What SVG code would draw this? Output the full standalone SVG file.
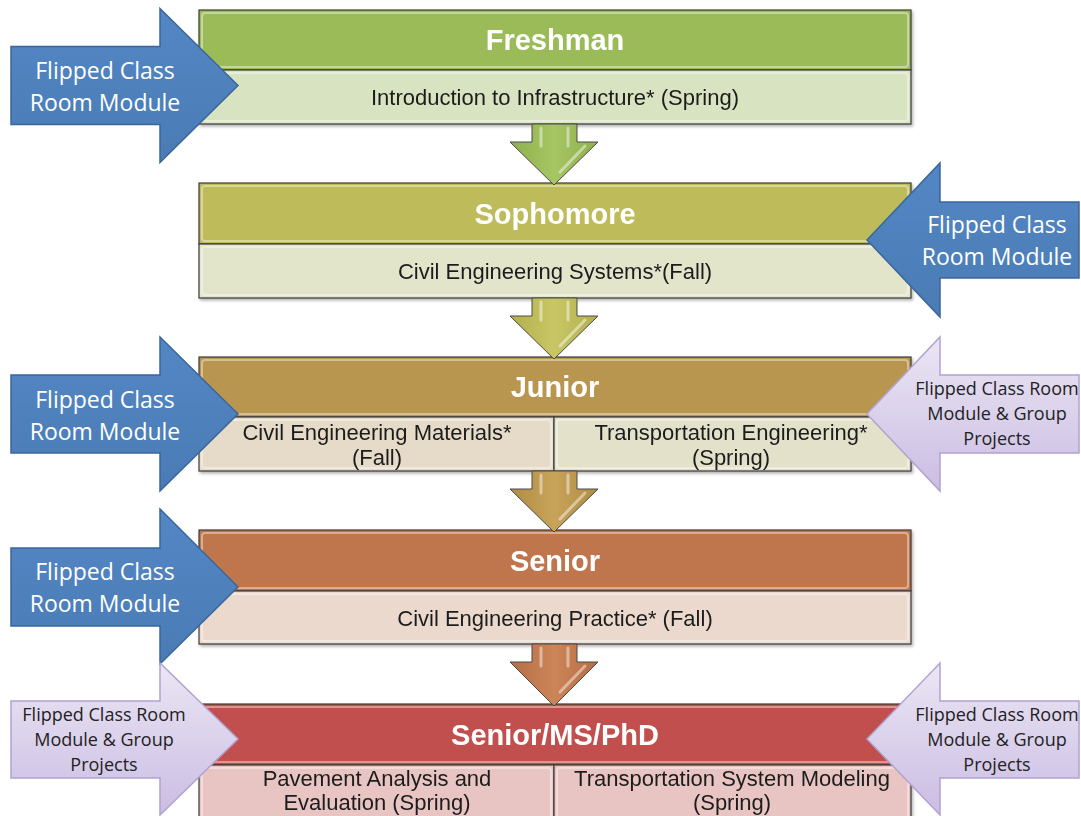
<svg xmlns="http://www.w3.org/2000/svg" width="1081" height="816" viewBox="0 0 1081 816">
<defs>
<style>
.hdr{stroke:#3a3a3a;stroke-width:1.2}
.bdy{stroke:#3a3a3a;stroke-width:1.2}
.bev{fill:none;stroke:#ffffff;stroke-opacity:0.4;stroke-width:2}
.title{font-family:"Liberation Sans",Arial,sans-serif;font-weight:bold;font-size:29px;fill:#ffffff;text-anchor:middle}
.body{font-family:"Liberation Sans",Arial,sans-serif;font-size:22px;fill:#1c1c1c;text-anchor:middle}
.blue{fill:url(#gBlue);stroke:#3a6699;stroke-width:1.5}
.purp{fill:url(#gPurp);stroke:#b2a3cf;stroke-width:1.5}
.bt{font-family:"Open Sans","Noto Sans",sans-serif;font-size:23px;fill:#ffffff;text-anchor:middle}
.pt{font-family:"Open Sans","Noto Sans",sans-serif;font-size:18px;fill:#222222;text-anchor:middle}
.dn{stroke:#4a4a4a;stroke-width:1}
.hl{stroke:#ffffff;stroke-opacity:0.45;stroke-width:3;fill:none;stroke-linecap:round}
</style>
<linearGradient id="gBlue" x1="0" y1="0" x2="0" y2="1">
<stop offset="0" stop-color="#5387c4"/><stop offset="1" stop-color="#4a7bb5"/>
</linearGradient>
<linearGradient id="gPurp" x1="0" y1="0" x2="0" y2="1">
<stop offset="0" stop-color="#ebe6f4"/><stop offset="1" stop-color="#cbbde3"/>
</linearGradient>
<linearGradient id="gD1" x1="0" y1="0" x2="1" y2="0">
<stop offset="0" stop-color="#8fb04c"/><stop offset="0.5" stop-color="#a6c563"/><stop offset="1" stop-color="#8fb04c"/>
</linearGradient>
<linearGradient id="gD2" x1="0" y1="0" x2="1" y2="0">
<stop offset="0" stop-color="#b2b04d"/><stop offset="0.5" stop-color="#c9c665"/><stop offset="1" stop-color="#b2b04d"/>
</linearGradient>
<linearGradient id="gD3" x1="0" y1="0" x2="1" y2="0">
<stop offset="0" stop-color="#b08c44"/><stop offset="0.5" stop-color="#c8a45a"/><stop offset="1" stop-color="#b08c44"/>
</linearGradient>
<linearGradient id="gD4" x1="0" y1="0" x2="1" y2="0">
<stop offset="0" stop-color="#b56c44"/><stop offset="0.5" stop-color="#cc8558"/><stop offset="1" stop-color="#b56c44"/>
</linearGradient>
<filter id="sh" x="-5%" y="-10%" width="110%" height="130%">
<feDropShadow dx="1.5" dy="2" stdDeviation="1.8" flood-color="#000" flood-opacity="0.3"/>
</filter>
</defs>
<rect width="1081" height="816" fill="#ffffff"/>

<g id="freshman" filter="url(#sh)">
<rect class="hdr" x="199" y="10" width="712" height="60" fill="#9bbb59"/>
<rect class="bev" x="202" y="13" width="706" height="54" rx="3"/>
<rect class="bdy" x="199" y="70" width="712" height="54" fill="#d8e4c1"/>
<rect class="bev" x="202" y="73" width="706" height="48" rx="3"/>
<text class="title" x="555" y="50">Freshman</text>
<text class="body" x="555" y="105">Introduction to Infrastructure* (Spring)</text>
</g>

<g id="sophomore" filter="url(#sh)">
<rect class="hdr" x="199" y="183" width="712" height="61" fill="#bdbb5a"/>
<rect class="bev" x="202" y="186" width="706" height="55" rx="3"/>
<rect class="bdy" x="199" y="244" width="712" height="54" fill="#e3e5cb"/>
<rect class="bev" x="202" y="247" width="706" height="48" rx="3"/>
<text class="title" x="555" y="224">Sophomore</text>
<text class="body" x="555" y="279">Civil Engineering Systems*(Fall)</text>
</g>

<g id="junior" filter="url(#sh)">
<rect class="hdr" x="199" y="357" width="712" height="60" fill="#b9964f"/>
<rect class="bev" x="202" y="360" width="706" height="54" rx="3"/>
<rect class="bdy" x="199" y="417" width="355" height="54" fill="#e6dbc8"/>
<rect class="bev" x="202" y="420" width="349" height="48" rx="3"/>
<rect class="bdy" x="554" y="417" width="357" height="54" fill="#e4e1ca"/>
<rect class="bev" x="557" y="420" width="351" height="48" rx="3"/>
<text class="title" x="555" y="397">Junior</text>
<text class="body" x="377" y="440">Civil Engineering Materials*</text>
<text class="body" x="377" y="465">(Fall)</text>
<text class="body" x="731" y="440">Transportation Engineering*</text>
<text class="body" x="731" y="465">(Spring)</text>
</g>

<g id="senior" filter="url(#sh)">
<rect class="hdr" x="199" y="530" width="712" height="61" fill="#c0764e"/>
<rect class="bev" x="202" y="533" width="706" height="55" rx="3"/>
<rect class="bdy" x="199" y="591" width="712" height="53" fill="#ebd9cd"/>
<rect class="bev" x="202" y="594" width="706" height="47" rx="3"/>
<text class="title" x="555" y="571">Senior</text>
<text class="body" x="555" y="626">Civil Engineering Practice* (Fall)</text>
</g>

<g id="senior-ms-phd" filter="url(#sh)">
<rect class="hdr" x="199" y="704" width="712" height="61" fill="#c0504d"/>
<rect class="bev" x="202" y="707" width="706" height="55" rx="3"/>
<rect class="bdy" x="199" y="765" width="355" height="60" fill="#e8c5c3"/>
<rect class="bev" x="202" y="768" width="349" height="60" rx="3"/>
<rect class="bdy" x="554" y="765" width="357" height="60" fill="#e8c5c3"/>
<rect class="bev" x="557" y="768" width="351" height="60" rx="3"/>
<text class="title" x="555" y="745">Senior/MS/PhD</text>
<text class="body" x="377" y="786">Pavement Analysis and</text>
<text class="body" x="377" y="810">Evaluation (Spring)</text>
<text class="body" x="732" y="786">Transportation System Modeling</text>
<text class="body" x="732" y="810">(Spring)</text>
</g>

<g id="connectors">
<g id="down1">
<path class="dn" fill="url(#gD1)" d="M532,124 L577,124 L577,142 L598,142 L554,185 L510,142 L532,142 Z"/>
<path class="hl" d="M541,128 L541,146 M568,128 L568,146 M585,146 L560,172"/>
</g>
<g id="down2">
<path class="dn" fill="url(#gD2)" d="M532,298 L577,298 L577,316 L598,316 L554,359 L510,316 L532,316 Z"/>
<path class="hl" d="M541,302 L541,320 M568,302 L568,320 M585,320 L560,346"/>
</g>
<g id="down3">
<path class="dn" fill="url(#gD3)" d="M532,471 L577,471 L577,489 L598,489 L554,532 L510,489 L532,489 Z"/>
<path class="hl" d="M541,475 L541,493 M568,475 L568,493 M585,493 L560,519"/>
</g>
<g id="down4">
<path class="dn" fill="url(#gD4)" d="M532,644 L577,644 L577,662 L598,662 L554,706 L510,662 L532,662 Z"/>
<path class="hl" d="M541,648 L541,666 M568,648 L568,666 M585,666 L560,692"/>
</g>
</g>

<g id="arrow-freshman-left">
<path class="blue" d="M11,46.5 L160,46.5 L160,8.5 L238,85.5 L160,162.5 L160,124.5 L11,124.5 Z"/>
<text class="bt" x="105" y="79">Flipped Class</text>
<text class="bt" x="105" y="111">Room Module</text>
</g>

<g id="arrow-sophomore-right">
<path class="blue" d="M1079,202 L940,202 L940,163 L867,240 L940,317 L940,278 L1079,278 Z"/>
<text class="bt" x="997" y="233">Flipped Class</text>
<text class="bt" x="997" y="265">Room Module</text>
</g>

<g id="arrow-junior-left">
<path class="blue" d="M11,375 L160,375 L160,337 L238,414 L160,491 L160,453 L11,453 Z"/>
<text class="bt" x="105" y="408">Flipped Class</text>
<text class="bt" x="105" y="440">Room Module</text>
</g>

<g id="arrow-junior-right">
<path class="purp" d="M1079,375 L940,375 L940,337 L867,414 L940,491 L940,453 L1079,453 Z"/>
<text class="pt" x="997" y="395">Flipped Class Room</text>
<text class="pt" x="997" y="420">Module &amp; Group</text>
<text class="pt" x="997" y="445">Projects</text>
</g>

<g id="arrow-senior-left">
<path class="blue" d="M11,548 L160,548 L160,509 L238,587 L160,664 L160,626 L11,626 Z"/>
<text class="bt" x="105" y="580">Flipped Class</text>
<text class="bt" x="105" y="612">Room Module</text>
</g>

<g id="arrow-phd-left">
<path class="purp" d="M11,701 L160,701 L160,663 L238,739 L160,815 L160,778 L11,778 Z"/>
<text class="pt" x="104" y="721">Flipped Class Room</text>
<text class="pt" x="104" y="746">Module &amp; Group</text>
<text class="pt" x="104" y="771">Projects</text>
</g>

<g id="arrow-phd-right">
<path class="purp" d="M1079,701 L940,701 L940,663 L867,739 L940,815 L940,778 L1079,778 Z"/>
<text class="pt" x="997" y="721">Flipped Class Room</text>
<text class="pt" x="997" y="746">Module &amp; Group</text>
<text class="pt" x="997" y="771">Projects</text>
</g>
</svg>
